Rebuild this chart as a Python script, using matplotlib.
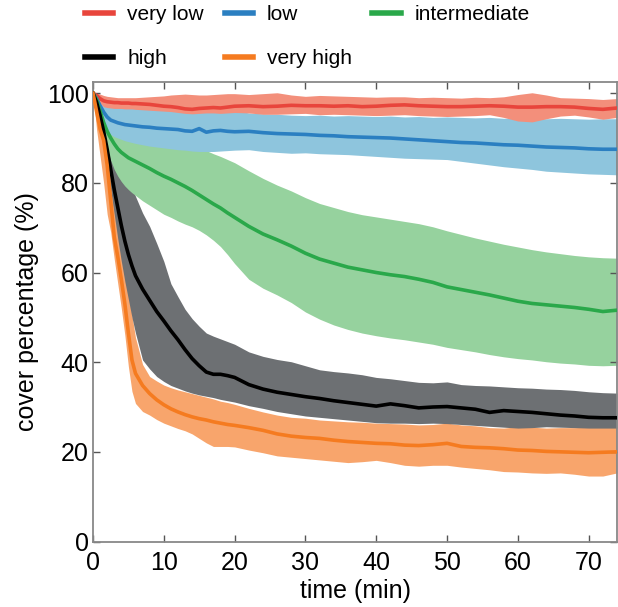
import matplotlib
matplotlib.use("Agg")
import matplotlib.pyplot as plt

plt.rcParams['font.family'] = ['Liberation Sans', 'DejaVu Sans']

# time grid (min)
t = [0, 0.5, 1, 1.5, 2, 2.5, 3, 3.5, 4, 4.5, 5, 5.5, 6, 7, 8, 9, 10, 11, 12, 13, 14, 15, 16, 17, 18, 19, 20,
     22, 24, 26, 28, 30, 32, 34, 36, 38, 40, 42, 44, 46, 48, 50, 52, 54, 56, 58, 60, 62, 64, 66, 68, 70, 72, 74]

# very low
vlow_mean = [100, 99.5, 98.8, 98.3, 98.1, 98.0, 97.9, 97.9, 97.8, 97.8, 97.8, 97.7, 97.7, 97.6, 97.5, 97.3, 97.1,
             97.0, 96.8, 96.5, 96.4, 96.6, 96.7, 96.8, 96.7, 96.9, 97.1, 97.2, 97.0, 97.1, 97.3, 97.2, 97.2, 97.1,
             97.2, 97.0, 97.1, 97.3, 97.4, 97.2, 97.1, 97.0, 97.0, 97.1, 97.2, 97.1, 96.9, 96.9, 97.0, 97.0, 96.9,
             96.6, 96.4, 96.7]
vlow_hi = [100, 100, 99.8, 99.5, 99.3, 99.2, 99.1, 99.0, 99.0, 99.0, 99.0, 99.0, 99.0, 99.1, 99.2, 99.3, 99.4,
           99.6, 99.7, 99.8, 99.7, 99.6, 99.6, 99.7, 99.8, 99.9, 99.9, 99.7, 99.9, 100.1, 99.6, 99.3, 99.5, 99.4,
           99.3, 99.2, 99.1, 99.2, 99.2, 99.0, 99.1, 99.0, 98.9, 99.1, 99.0, 99.2, 99.7, 100.1, 99.6, 99.0, 98.9,
           98.8, 98.6, 98.8]
vlow_lo = [100, 99.0, 97.8, 97.0, 96.8, 96.7, 96.6, 96.6, 96.6, 96.5, 96.5, 96.5, 96.4, 96.3, 96.2, 96.1, 96.0,
           95.9, 95.7, 95.5, 95.4, 95.5, 95.6, 95.6, 95.5, 95.6, 95.7, 95.6, 95.3, 95.3, 95.4, 95.5, 95.2, 95.3,
           95.2, 95.1, 95.0, 95.1, 95.2, 95.0, 94.9, 94.8, 94.9, 95.0, 95.2, 94.6, 93.8, 93.6, 94.3, 94.9, 95.1,
           94.7, 94.2, 94.6]

# low
low_mean = [100, 98.8, 97.2, 95.8, 94.7, 94.0, 93.7, 93.4, 93.2, 93.0, 92.9, 92.8, 92.7, 92.5, 92.4, 92.2, 92.1,
            92.0, 91.9, 91.6, 91.5, 92.1, 91.3, 91.6, 91.7, 91.5, 91.4, 91.5, 91.2, 91.0, 90.9, 90.8, 90.6, 90.5,
            90.3, 90.2, 90.1, 90.0, 89.8, 89.6, 89.4, 89.2, 89.0, 88.9, 88.7, 88.5, 88.4, 88.2, 88.0, 87.9, 87.8,
            87.6, 87.5, 87.5]
low_hi = [100, 99.5, 98.8, 98.3, 98.0, 97.8, 97.6, 97.5, 97.4, 97.3, 97.2, 97.1, 97.0, 96.9, 96.8, 96.8, 96.8,
          96.7, 96.6, 96.6, 96.5, 96.5, 96.5, 96.4, 96.4, 96.3, 96.2, 95.6, 95.4, 95.3, 95.1, 95.0, 95.1, 94.9,
          95.0, 94.9, 94.8, 94.9, 94.7, 94.8, 94.6, 94.7, 94.6, 94.5, 94.6, 94.4, 94.5, 94.4, 94.3, 94.4, 94.3,
          94.2, 94.3, 94.3]
low_lo = [100, 97.5, 95.0, 93.0, 91.5, 90.8, 90.3, 90.0, 89.7, 89.4, 89.2, 89.0, 88.8, 88.5, 88.2, 88.0, 87.8,
          87.6, 87.4, 87.3, 87.1, 87.0, 87.0, 87.0, 87.1, 87.2, 87.3, 87.4, 87.0, 86.8, 86.6, 86.7, 86.5, 86.4,
          86.3, 86.1, 85.9, 85.7, 85.5, 85.4, 85.3, 85.2, 84.8, 84.4, 84.0, 83.6, 83.3, 83.0, 82.6, 82.4, 82.2,
          82.0, 81.9, 81.8]

# intermediate
mid_mean = [100, 98.5, 96.0, 93.5, 91.5, 90.0, 88.7, 87.6, 86.8, 86.2, 85.6, 85.2, 84.8, 84.0, 83.2, 82.3, 81.5,
            80.8, 80.0, 79.2, 78.3, 77.3, 76.3, 75.3, 74.4, 73.3, 72.3, 70.3, 68.6, 67.3, 65.9, 64.3, 63.0, 62.1,
            61.2, 60.6, 60.0, 59.5, 59.1, 58.5, 57.8, 56.8, 56.2, 55.6, 55.0, 54.3, 53.6, 53.1, 52.8, 52.5, 52.2,
            51.8, 51.3, 51.6]
mid_hi = [100, 99.5, 98.0, 96.5, 95.3, 94.5, 94.0, 93.6, 93.3, 93.0, 92.8, 92.6, 92.4, 92.0, 91.6, 91.2, 90.7,
          90.2, 89.7, 89.2, 88.7, 88.0, 87.2, 86.5, 85.9, 85.2, 84.5, 82.7, 81.0, 79.5, 78.2, 76.7, 75.4, 74.5,
          73.6, 72.9, 72.4, 71.9, 71.4, 70.9, 70.2, 69.3, 68.5, 67.7, 67.0, 66.3, 65.7, 65.1, 64.6, 64.2, 63.8,
          63.5, 63.3, 63.2]
mid_lo = [100, 97.5, 94.0, 90.5, 87.5, 85.0, 83.0, 81.5, 80.3, 79.3, 78.5, 77.8, 77.2, 76.0, 75.0, 74.0, 73.0,
          72.3, 71.5, 70.8, 70.2, 69.4, 68.4, 67.2, 65.8, 64.0, 62.0, 58.5, 56.5, 55.0, 53.3, 51.2, 49.6, 48.3,
          47.3, 46.5, 45.9, 45.4, 45.0, 44.5, 44.0, 43.3, 42.8, 42.3, 41.7, 41.2, 40.8, 40.5, 40.1, 39.8, 39.6,
          39.3, 39.2, 39.3]

# high
high_mean = [100, 98.0, 95.0, 91.5, 87.5, 83.0, 78.5, 74.5, 70.5, 67.0, 64.0, 61.5, 59.3, 56.3, 53.8, 51.3, 49.2,
             47.0, 45.0, 42.8, 40.8, 39.2, 37.8, 37.3, 37.3, 37.0, 36.6, 35.0, 34.0, 33.3, 32.8, 32.3, 31.9, 31.4,
             31.0, 30.6, 30.2, 30.7, 30.3, 29.8, 30.0, 30.1, 29.8, 29.5, 28.8, 29.2, 29.0, 28.8, 28.5, 28.2, 28.0,
             27.7, 27.6, 27.6]
high_hi = [100, 99.5, 98.5, 97.0, 95.0, 92.5, 90.0, 87.5, 85.5, 83.5, 81.0, 79.0, 77.0, 73.3, 70.3, 66.5, 62.5,
           57.5, 54.6, 51.8, 49.7, 48.0, 46.5, 45.8, 45.2, 44.6, 44.0, 42.3, 41.3, 40.6, 40.1, 39.2, 38.3, 37.9,
           37.6, 37.2, 36.6, 36.3, 35.9, 35.5, 35.4, 35.6, 35.0, 34.8, 34.7, 34.5, 34.3, 34.2, 34.0, 33.9, 33.7,
           33.4, 33.2, 33.1]
high_lo = [100, 98.0, 94.0, 89.0, 84.0, 78.5, 73.0, 67.5, 62.5, 58.0, 54.0, 50.0, 46.5, 40.5, 38.5, 36.8, 35.7,
           34.8, 34.2, 33.6, 33.1, 32.7, 32.4, 32.1, 31.7, 31.4, 31.1, 30.3, 29.7, 29.0, 28.5, 28.0, 27.7, 27.4,
           27.1, 26.8, 26.5, 26.4, 26.4, 26.3, 26.4, 26.3, 26.1, 25.9, 25.7, 25.5, 25.3, 25.4, 25.6, 25.5, 25.4,
           25.3, 25.3, 25.3]

# very high
vhigh_mean = [100, 96.0, 92.0, 89.5, 84.0, 76.0, 68.0, 63.5, 58.5, 53.0, 46.5, 40.5, 37.5, 34.8, 33.0, 31.6, 30.5,
              29.6, 28.9, 28.3, 27.8, 27.4, 27.1, 26.7, 26.4, 26.1, 25.9, 25.4, 24.8, 24.0, 23.5, 23.2, 23.0, 22.6,
              22.3, 22.1, 21.9, 21.8, 21.5, 21.4, 21.6, 21.9, 21.2, 21.0, 20.9, 20.7, 20.4, 20.3, 20.1, 20.0, 19.9,
              19.8, 19.9, 20.0]
vhigh_hi = [100, 99.0, 97.0, 94.0, 90.5, 86.0, 80.5, 75.0, 70.0, 65.0, 57.0, 50.5, 45.5, 39.5, 36.8, 35.8, 34.9,
            34.3, 33.8, 33.4, 33.0, 32.6, 32.2, 31.8, 31.3, 31.0, 30.6, 29.7, 28.9, 28.2, 27.7, 27.5, 27.1, 26.9,
            26.7, 26.6, 26.4, 26.3, 26.2, 26.0, 26.1, 26.4, 26.0, 25.8, 25.4, 25.3, 25.6, 25.5, 25.3, 25.4, 25.4,
            25.5, 25.6, 25.6]
vhigh_lo = [100, 92.0, 86.0, 80.0, 73.0, 69.0, 63.0, 57.5, 52.0, 46.0, 39.0, 33.5, 30.8, 29.0, 28.2, 27.2, 26.4,
            25.8, 25.2, 24.7, 24.0, 23.0, 22.0, 21.2, 21.2, 21.2, 21.1, 20.4, 19.8, 19.1, 18.8, 18.5, 18.2, 17.9,
            17.6, 17.8, 18.1, 17.6, 17.0, 16.8, 17.0, 17.0, 16.6, 16.3, 16.0, 15.6, 15.5, 15.3, 15.2, 15.3, 15.0,
            14.6, 14.6, 15.3]

labels = ['very low', 'low', 'intermediate', 'high', 'very high']
line_colors = ['#e8453c', '#2b7fc1', '#2aa84a', '#000000', '#f57b20']
fill_colors = ['#f38f7b', '#8ec5dd', '#96d29e', '#6d7073', '#f8a56c']
means = [vlow_mean, low_mean, mid_mean, high_mean, vhigh_mean]
his = [vlow_hi, low_hi, mid_hi, high_hi, vhigh_hi]
los = [vlow_lo, low_lo, mid_lo, high_lo, vhigh_lo]

fig = plt.figure(figsize=(6.18, 6.07), dpi=100)
ax = fig.add_axes([93 / 618, 65.5 / 607, 524 / 618, 459.5 / 607])

# bands: draw so lower-index bands sit on top
for i in [3, 4, 2, 1, 0]:
    ax.fill_between(t, los[i], his[i], color=fill_colors[i], linewidth=0, zorder=1 + (4 - i) * 0.01)

handles = []
for i in range(5):
    h, = ax.plot(t, means[i], color=line_colors[i], lw=2.6, label=labels[i], zorder=3,
                 solid_joinstyle='round')
    handles.append(h)

ax.set_xlim(0, 74)
ax.set_ylim(0, 102.5)
ax.set_xticks([0, 10, 20, 30, 40, 50, 60, 70])
ax.set_yticks([0, 20, 40, 60, 80, 100])
ax.tick_params(direction='in', length=5, width=1, color='#555555', labelsize=18,
               top=True, right=True)
ax.tick_params(axis='x', pad=7)
ax.tick_params(axis='y', pad=3)
for s in ax.spines.values():
    s.set_color('#888888')
    s.set_linewidth(1.3)

ax.set_xlabel('time (min)', fontsize=18, labelpad=3)
ax.set_ylabel('cover percentage (%)', fontsize=18, labelpad=6)

order = [0, 3, 1, 4, 2]
leg = fig.legend([handles[k] for k in order], [labels[k] for k in order], ncol=3,
                 loc='upper left', bbox_to_anchor=(85 / 618, 1 - 5 / 607), frameon=False,
                 fontsize=15, handlelength=1.35, handletextpad=0.67, columnspacing=1.0,
                 labelspacing=1.2, borderpad=0, borderaxespad=0)
for lh in leg.get_lines():
    lh.set_linewidth(4)

fig.savefig('out.png', dpi=100)
